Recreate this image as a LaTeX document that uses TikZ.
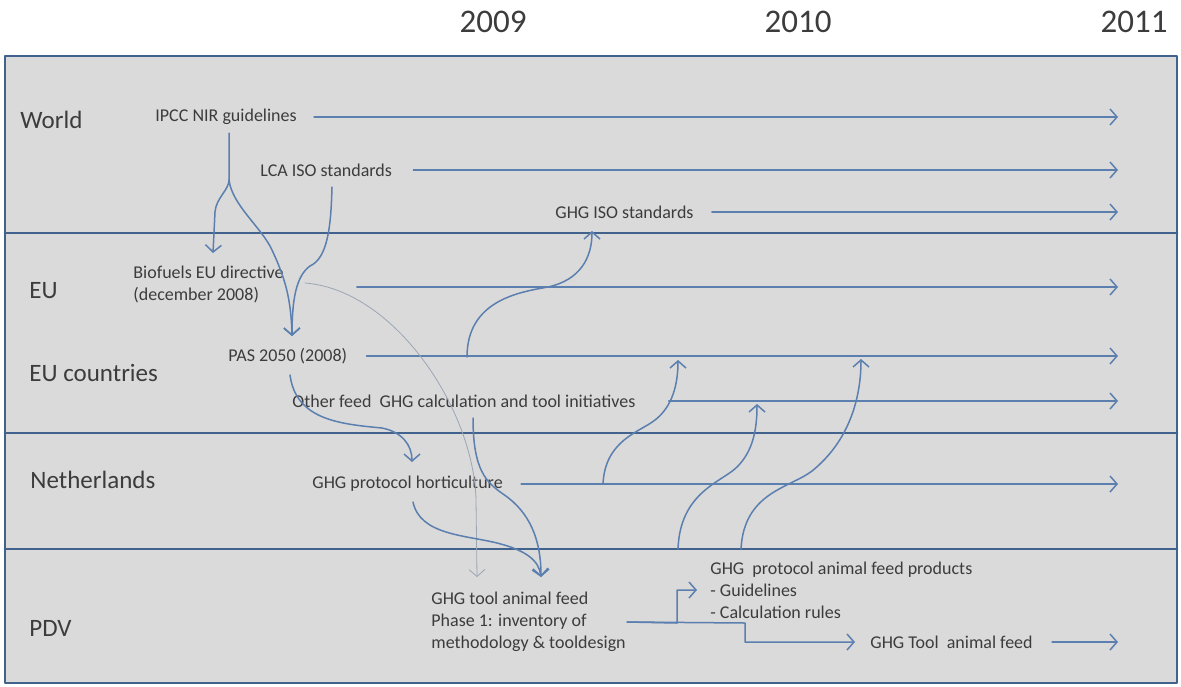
\documentclass[tikz,border=0pt]{standalone}
\usepackage{fontspec}
\setmainfont{Carlito}
\usetikzlibrary{arrows.meta}
\definecolor{laneblue}{HTML}{41628C}
\definecolor{flowblue}{HTML}{5B7FAE}
\definecolor{faintgray}{HTML}{9AA6B6}
\definecolor{panel}{HTML}{DADADA}
\definecolor{ink}{HTML}{3C3C3C}
\begin{document}
\begin{tikzpicture}[x=0.5pt, y=-0.5pt, line cap=round, line join=round,
    year/.style={font=\fontsize{16.5}{19}\selectfont, text=ink, inner sep=0pt},
    lane/.style={font=\fontsize{12.5}{15}\selectfont, text=ink, anchor=west, inner sep=0pt},
    item/.style={font=\fontsize{9}{11}\selectfont, text=ink, anchor=west, align=left, inner sep=0.5pt},
    frame/.style={draw=laneblue, line width=1.4pt},
    flow/.style={draw=flowblue, line width=0.75pt, -{Straight Barb[length=3.5pt, width=8pt]}},
    faint/.style={draw=faintgray, line width=0.4pt, -{Straight Barb[length=3.5pt, width=8pt]}}]
  \useasboundingbox (0,0) rectangle (1181,686);
  % lanes
  \filldraw[frame, fill=panel] (5,56) rectangle (1177,683);
  \draw[frame] (5,233) -- (1177,233);
  \draw[frame] (5,433) -- (1177,433);
  \draw[frame] (5,549) -- (1177,549);
  \node[year] (y09) at (493,22) {2009};
  \node[year] (y10) at (798,22) {2010};
  \node[year] (y11) at (1134,22) {2011};
  \node[lane] (world) at (20,120) {World};
  \node[lane] (eu) at (29,291) {EU};
  \node[lane] (euc) at (29,373) {EU countries};
  \node[lane] (nl) at (30,480) {Netherlands};
  \node[lane] (pdv) at (29,628) {PDV};
  % items
  \node[item] (ipcc) at (154,117) {IPCC NIR guidelines};
  \node[item] (lca) at (259,170) {LCA ISO standards};
  \node[item] (ghgiso) at (554,212) {GHG ISO standards};
  \node[item] (bio) at (132,284) {Biofuels EU directive\\(december 2008)};
  \node[item] (pas) at (227,356) {PAS 2050 (2008)};
  \node[item] (other) at (291,401) {Other feed\ \ GHG calculation and tool initiatives};
  \node[item] (hort) at (311,484) {GHG protocol horticulture};
  \node[item] (tool1) at (430,622) {GHG tool animal feed\\Phase 1: inventory of\\methodology \& tooldesign};
  \node[item] (proto) at (709,590) {GHG\ \ protocol animal feed products\\- Guidelines\\- Calculation rules};
  \node[item] (tool2) at (869,642) {GHG Tool\ \ animal feed};
  % time lines
  \coordinate (tend) at (1118,0);
  \foreach \n/\g in {ipcc/8pt, lca/10pt, ghgiso/8.5pt, pas/9pt, other/16pt, hort/8.5pt, tool2/9pt}
    \draw[flow] ([xshift=\g]\n.east) -- (\n.east -| tend);
  \draw[flow] ([xshift=36pt, yshift=-1.5pt]bio.east) -- ([yshift=-1.5pt]bio.east -| tend);
  % influences
  \coordinate (bioin) at (213,253);
  \coordinate (pasin) at (292,336);
  \coordinate (hortin) at (412,462);
  \coordinate (toolin) at (477,577);
  \coordinate (toolin2) at (541,577);
  \draw[flow] (229,133) -- (229,180) .. controls (229,190) and (216,198) .. (215,212) -- (bioin);
  \draw[flow] (229,180) .. controls (232,205) and (262,228) .. (272,250) .. controls (286,280) and (291,300) .. (pasin);
  \draw[flow] (332,187) .. controls (331,225) and (328,258) .. (310,266) .. controls (296,276) and (292,300) .. (pasin);
  \draw[faint] (305,283) .. controls (395,290) and (474,410) .. (476,500) -- (toolin);
  \draw[flow] (290,375) .. controls (296,420) and (340,424) .. (382,428) .. controls (402,432) and (412,445) .. (hortin);
  \draw[flow] (473,418) .. controls (473,470) and (486,482) .. (503,494) .. controls (530,512) and (541,540) .. (toolin2);
  \draw[flow] (413,502) .. controls (420,535) and (465,535) .. (497,543) .. controls (525,550) and (539,560) .. (toolin2);
  \draw[flow] (467,357) .. controls (467,300) and (520,292) .. (548,287) .. controls (580,280) and (592,258) .. (592,231);
  \draw[flow] (603,484) .. controls (605,440) and (640,432) .. (655,420) .. controls (672,407) and (678,385) .. (678,360);
  \draw[flow] (678,549) .. controls (680,492) and (722,482) .. (737,467) .. controls (752,452) and (757,432) .. (757,404);
  \draw[flow] (741,549) .. controls (744,492) and (790,488) .. (812,471) .. controls (848,442) and (861,400) .. (861,359);
  % PDV outputs
  \draw[flow] (tool1.east) -- (677,623) |- ([xshift=-6pt]proto.west);
  \draw[flow] (tool1.east) -- (745,623) |- ([xshift=-7pt]tool2.west);
\end{tikzpicture}
\end{document}
